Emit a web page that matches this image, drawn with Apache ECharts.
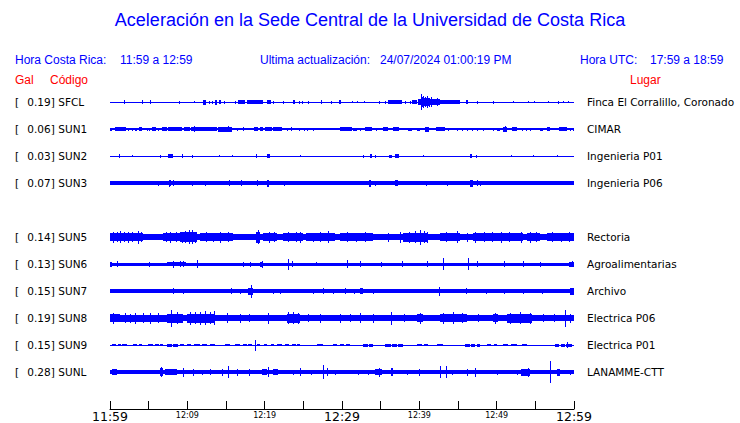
<!DOCTYPE html>
<html>
<head>
<meta charset="utf-8">
<script src="https://cdn.jsdelivr.net/npm/echarts@6/dist/echarts.min.js"></script>
<style>html,body{margin:0;padding:0;background:#fff}#c{width:740px;height:423px}</style>
</head>
<body>
<div id="c"></div>
<script>
// ---- data ----
const CODES  = ['SFCL','SUN1','SUN2','SUN3','SUN5','SUN6','SUN7','SUN8','SUN9','SUNL'];
const GAL    = ['0.19','0.06','0.03','0.07','0.14','0.13','0.15','0.19','0.15','0.28'];
const PLACES = ['Finca El Corralillo, Coronado','CIMAR','Ingenieria P01','Ingenieria P06','Rectoria','Agroalimentarias','Archivo','Electrica P06','Electrica P01','LANAMME-CTT'];
const ROWS   = [0,1,2,3,5,6,7,8,9,10];
// background trace amplitude (half width) of each station
const BASE   = [0.5,0.6,0.5,1.7,3.2,1.5,1.7,2.8,0.5,1.7];
// minutes after 11:59 : [start, end, half amplitude]
const SFCL = [[1.8,1.8,2],[4.1,4.1,2],[5.2,5.2,2],[8.9,8.9,1.5],[10.9,10.9,1],[12.0,12.4,2.5],[12.8,12.8,1.5],[13.2,13.2,1.5],[13.6,13.8,2.5],[14.1,14.4,2],[14.7,14.7,1.5],[16.2,16.2,1.5],[16.6,17.5,2],[17.7,17.7,2],[17.8,19.8,2],[20.3,20.8,2],[21.1,21.1,1.5],[22.4,22.4,1.5],[23.7,23.9,2],[24.4,24.4,1.5],[24.8,24.8,1.5],[25.6,25.6,1.5],[27.3,27.3,2],[28.6,28.6,1.5],[29.6,29.9,2],[31.3,31.3,1],[31.9,31.9,1],[32.8,32.8,1],[34.8,34.8,1.5],[35.6,35.6,1.5],[35.9,37.8,2],[38.1,38.1,1.5],[38.8,38.8,1.5],[39.1,39.7,2],[39.8,42.7,3],[40.2,40.2,8],[40.3,40.3,5],[40.5,40.5,6],[40.6,40.6,4],[40.7,40.7,5],[40.9,40.9,4],[41.0,41.0,6],[41.1,41.1,4],[41.3,41.3,4.5],[41.5,41.5,5],[42.3,42.3,4],[42.7,45.3,2],[46.0,46.3,2],[47.5,47.5,1.5],[49.5,49.5,1.5],[52.1,52.1,1],[54.1,54.1,1],[54.8,54.8,1],[56.6,56.6,1],[57.9,57.9,1.5],[58.6,58.6,1],[59.2,59.2,1]];
const SUN1 = [[0,0.3,1.5],[0.6,2.1,2],[2.3,2.3,1.5],[2.8,2.8,1.5],[3.2,3.5,1.5],[3.8,4.1,2],[4.8,4.8,1.5],[5.0,5.0,1.5],[5.4,5.9,2],[6.2,6.2,1.5],[6.7,7.4,2],[7.5,9.3,2],[9.6,10.3,2],[10.5,11.6,2],[10.8,10.8,3],[11.6,13.8,2],[14.0,15.8,2.5],[15.3,15.3,3],[16.4,16.4,1.5],[17.2,17.2,2],[18.1,18.1,1],[18.6,19.1,2],[19.4,19.8,2],[20.0,20.9,2],[21.1,22.2,2],[22.9,22.9,1.5],[23.4,23.4,2],[24.4,24.4,1.5],[25.1,25.1,1.5],[25.5,25.5,1.5],[26.3,26.3,1.5],[27.3,27.3,1],[27.5,27.5,1],[28.1,28.1,1],[28.8,28.8,1],[29.7,31.3,2],[31.4,31.9,1.5],[32.3,32.3,1.5],[33.0,33.9,2],[34.4,34.4,1.5],[35.3,35.9,2],[36.6,37.4,2],[38.5,39.1,1.5],[39.7,40.1,1.5],[40.7,41.3,2.5],[42.2,43.3,2],[43.7,43.7,1.5],[44.9,44.9,1.5],[45.5,45.5,1.5],[46.2,46.2,1.5],[46.8,46.8,1.5],[47.5,47.5,1.5],[48.2,48.2,1.5],[49.5,49.5,1.5],[50.0,50.4,1.5],[50.8,51.3,2.5],[51.1,51.1,3],[52.0,52.6,2],[53.3,53.3,1.5],[53.8,53.8,1.5],[54.3,54.3,1.5],[55.2,55.2,1],[55.6,56.0,1.5],[56.5,56.9,2],[58.1,59.1,2],[59.5,59.5,1.5],[59.9,59.9,1.5]];
const SUN2 = [[1.2,1.2,2],[2.9,2.9,1],[6.5,6.5,1.5],[7.5,8.1,2],[9.3,9.3,2],[10.6,10.6,1.5],[14.1,14.1,1],[15.8,15.8,1],[18.9,18.9,2],[20.3,20.7,2],[24.6,24.6,1],[32.7,32.7,1.5],[33.6,33.9,2],[34.3,34.3,1.5],[36.1,36.5,1.5],[36.9,37.4,2],[40.5,40.5,1],[46.6,46.8,2],[47.3,47.3,1.5],[51.9,51.9,1],[54.7,54.7,1],[57.8,57.8,1]];
const SUN3 = [[6.2,6.2,2.5],[7.6,7.6,3.5],[7.8,7.8,3],[8.2,8.2,3],[10.6,10.6,2.5],[12.3,12.3,2.5],[15.4,15.4,3],[17.0,17.0,3],[19.0,19.0,3],[20.3,20.5,3.5],[22.5,22.5,2.5],[33.5,33.7,3.5],[34.3,34.3,2.5],[36.9,37.2,3],[40.9,40.9,2.5],[43.6,43.6,2.5],[46.6,46.9,3.5],[47.4,47.4,3],[47.8,47.8,2.5],[53.0,53.0,2],[54.7,54.7,2]];
const SUN5 = [[0,4.3,4.2],[0.4,0.4,5.5],[0.9,0.9,5],[1.3,1.3,6],[1.8,1.8,5],[2.3,2.3,5.5],[2.9,2.9,5],[3.6,3.6,6.5],[4.0,4.0,5],[6.8,9.0,4.2],[7.2,7.2,5],[7.8,7.8,5.5],[8.5,8.5,5],[9.0,11.2,4.8],[9.3,9.3,5.5],[9.7,9.7,6],[10.2,10.2,7],[10.6,10.6,7],[11.0,11.0,5.5],[11.6,15.9,3.9],[12.4,12.4,5],[13.3,13.3,4.5],[14.2,14.2,5.5],[15.2,15.2,5],[18.9,19.4,5.5],[19.1,19.1,7],[19.8,21.6,4.2],[20.5,20.5,5.5],[21.2,21.2,5],[22.4,24.9,4.2],[23.0,23.0,5],[24.0,24.0,5],[24.6,24.6,5.5],[25.4,29.1,3.9],[26.2,26.2,4.5],[27.2,27.2,5],[28.2,28.2,6],[29.7,34.0,3.9],[30.6,30.6,5],[31.8,31.8,4.5],[33.0,33.0,5],[36.0,36.0,4.5],[37.5,37.5,5.5],[37.9,41.0,4.5],[38.6,38.6,5.5],[39.5,39.5,6],[40.1,40.1,7.5],[40.6,40.6,6],[41.0,41.0,5.5],[42.7,45.3,4.2],[43.4,43.4,5],[44.9,44.9,6],[46.2,46.2,4.5],[47.0,53.4,4.2],[47.2,47.2,5.5],[48.3,48.3,5],[49.4,49.4,5],[50.5,50.5,5.5],[51.6,51.6,5],[53.1,53.1,5.5],[53.9,55.6,4.2],[54.3,54.3,5.5],[55.1,55.1,5],[56.5,60,3.9],[57.2,57.2,5],[58.3,58.3,4.5],[59.3,59.3,5]];
const SUN6 = [[0,0.3,2.5],[0.9,0.9,3],[5.0,5.0,2.5],[7.4,9.8,2],[8.2,8.2,3.5],[9.0,9.0,3],[9.5,9.5,3],[11.2,11.2,4],[17.2,17.2,2.5],[18.1,18.1,2.5],[19.4,19.8,2.5],[19.6,19.6,3.5],[23.0,23.0,5.5],[23.5,23.5,3],[26.7,26.7,2],[30.6,30.6,4],[32.3,32.3,3],[35.1,35.1,2.5],[37.7,37.7,3],[41.0,41.0,3],[43.1,43.1,6],[46.3,46.3,6],[47.4,47.4,3],[50.9,50.9,3],[53.4,53.4,3],[55.6,55.6,2.5],[59.4,60,2.5],[59.7,59.7,3]];
const SUN7 = [[8.1,8.1,3],[9.4,9.4,2.5],[15.7,15.7,3],[16.8,16.8,2.5],[17.8,18.5,3.5],[18.2,18.2,6.5],[21.1,21.1,2.5],[22.0,22.0,2.5],[26.3,26.3,2.5],[27.6,27.6,3],[28.9,28.9,2.5],[30.4,30.4,3],[31.5,31.5,2.5],[32.3,32.7,3],[34.0,34.0,2.5],[36.0,36.0,2],[40.7,40.7,2],[42.6,42.6,4.5],[46.0,46.0,3],[48.6,48.6,2.5],[50.9,50.9,2.5],[53.4,53.4,2.5],[55.8,55.8,2.5],[59.5,60,3.5]];
const SUN8 = [[0,1.3,4],[0.4,0.4,5.5],[1.3,7.4,3.5],[1.9,1.9,5],[2.6,2.6,4.5],[3.2,3.2,5.5],[4.3,4.3,5],[5.2,5.2,5.5],[6.2,6.2,5],[7.4,9.5,4.5],[7.9,7.9,8.5],[8.7,8.7,6],[10.0,13.6,4.5],[10.3,10.3,6.5],[11.0,11.0,6],[11.6,11.6,6.5],[12.3,12.3,7],[12.9,12.9,6],[13.4,13.4,7],[15.1,15.1,5],[16.8,16.8,4.5],[18.0,18.0,4],[20.4,20.4,5.5],[22.9,24.6,4.5],[23.0,23.0,6],[23.7,23.7,6],[24.3,24.3,5.5],[25.6,25.6,4],[27.2,27.2,4.5],[29.7,29.7,4.5],[31.0,31.0,4],[32.3,32.3,5],[34.0,34.0,4.5],[36.3,36.3,6.5],[38.0,38.0,4],[39.7,40.5,4],[40.1,40.1,5.5],[42.7,46.2,4],[43.1,43.1,5.5],[44.4,44.4,6],[45.5,45.5,5],[47.6,47.6,4],[49.5,50.2,4],[49.8,49.8,5.5],[51.3,54.6,4.5],[51.7,51.7,5.5],[53.0,53.0,6],[54.3,54.3,5.5],[56.0,56.0,4],[57.4,57.4,4],[58.8,58.8,8.5],[59.5,59.5,4.5]];
const SUN9 = [[0.3,0.8,1.2],[1.0,1.4,1.2],[1.6,2.2,1.2],[3.0,3.5,1.2],[3.7,4.1,1.2],[4.9,5.6,1.2],[5.8,6.3,1.2],[6.5,6.9,1.2],[7.4,8.0,1.5],[8.2,8.8,1.5],[9.1,9.6,1.2],[9.9,10.5,1.2],[10.8,11.6,1.2],[11.9,12.6,1.2],[12.9,13.6,1.2],[14.9,15.5,1.2],[16.2,16.8,1.2],[17.2,17.7,1.2],[17.9,18.4,1.2],[18.7,18.7,5.5],[19.0,19.4,1],[19.9,20.3,1],[20.8,21.2,1],[21.6,22.2,1],[22.6,23.2,1.2],[23.5,24.0,1.2],[24.2,24.6,1.2],[26.8,27.5,1.2],[28.8,29.4,1.2],[29.7,30.2,1.2],[30.5,31.0,1.2],[32.7,33.3,1.5],[33.5,34.0,1.5],[35.6,36.3,1.5],[36.5,37.1,1.5],[37.3,37.9,1.5],[39.7,40.3,1.2],[40.6,41.1,1.2],[42.3,43.1,1.2],[45.9,46.5,1.5],[46.7,47.2,1.5],[47.4,47.8,1.5],[48.7,49.3,1.2],[49.6,50.0,1.2],[50.8,51.5,1.2],[51.8,52.6,1.2],[53.3,53.9,1.2],[57.5,58.0,1.5],[58.3,58.8,1.5],[59.0,59.8,1.5],[59.1,59.1,3]];
const SUNL = [[0.3,0.9,3],[6.5,6.9,4],[6.6,6.6,5],[7.1,8.6,3],[9.4,9.4,4.5],[10.7,10.7,3.5],[11.9,11.9,2.5],[12.9,12.9,3],[14.5,14.5,3.5],[15.3,15.3,6],[16.4,16.4,3.5],[18.0,18.0,3.5],[19.6,20.3,3],[20.4,20.4,5],[21.1,21.7,3],[23.6,23.6,2.5],[24.6,24.6,4],[26.0,26.0,2.5],[27.6,27.6,7],[28.1,28.1,4],[29.1,29.1,2.5],[32.1,32.1,2.5],[33.4,33.4,2.5],[34.3,35.2,3],[34.8,34.8,4.5],[36.4,36.6,4],[38.4,38.4,2.5],[39.9,39.9,3.5],[42.7,42.7,6],[43.5,43.5,6],[44.2,44.2,2.5],[46.1,46.1,3.5],[47.2,47.2,4.5],[50.0,50.0,2.5],[52.6,52.6,2.5],[53.2,54.3,3.5],[54.0,54.0,4.5],[56.9,56.9,11],[57.8,58.2,3.5],[59.5,59.5,2.5]];
const EVENTS = [SFCL,SUN1,SUN2,SUN3,SUN5,SUN6,SUN7,SUN8,SUN9,SUNL];
const X_LABELS = ['11:59','','12:09','','12:19','','12:29','','12:39','','12:49','','12:59'];
const BIG_LABELS = ['11:59','12:29','12:59'];

// ---- chart ----
const AMP_PER_ROW = 27;   // amplitude units per trace spacing
const BLUE = '#0000ff';
const chart = echarts.init(document.getElementById('c'), null, {renderer:'svg'});

function makeRender(row){
  return function(params, api){
    const a = api.value(2) / AMP_PER_ROW;
    const p0 = api.coord([api.value(0), row - a]);
    const p1 = api.coord([api.value(1), row + a]);
    const x0 = Math.round(Math.min(p0[0],p1[0]));
    let x1 = Math.round(Math.max(p0[0],p1[0])); if (x1 <= x0) x1 = x0 + 1;
    const y0 = Math.round(Math.min(p0[1],p1[1]));
    let y1 = Math.round(Math.max(p0[1],p1[1])); if (y1 <= y0) y1 = y0 + 1;
    return {type:'rect', shape:{x:x0,y:y0,width:x1-x0,height:y1-y0}, style:{fill:BLUE}};
  };
}

const series = EVENTS.map((ev,i)=>({
  type:'custom', name:CODES[i], xAxisIndex:0, yAxisIndex:0, silent:true, animation:false,
  renderItem: makeRender(ROWS[i]),
  encode:{x:[0,1]},
  data: [[0,60,BASE[i]]].concat(ev)
}));

const yCommon = {type:'value', inverse:true, min:-1, max:11.37, interval:1,
  axisLine:{show:false}, axisTick:{show:false}, splitLine:{show:false}};

const txt = (x,y,t,c,s)=>({type:'text', left:x, top:y, style:{text:t, fill:c, font:(s||12)+'px "Liberation Sans", Arial, sans-serif'}});
const LBL = {fontSize:10.5, fontFamily:'DejaVu Sans', color:'#000'};

chart.setOption({
  animation:false,
  grid:{left:110, right:166, top:75, bottom:14, containLabel:false, outerBoundsMode:'none'},
  xAxis:{type:'value', min:0, max:60, interval:5,
    axisLine:{onZero:false, lineStyle:{color:'#000', width:1}},
    axisTick:{inside:true, length:8, lineStyle:{color:'#000'}},
    splitLine:{show:false},
    axisLabel:{margin:1, verticalAlign:'top',
      formatter:function(v){ const s = X_LABELS[Math.round(v/5)] || ''; if(!s) return ''; return BIG_LABELS.indexOf(s)>=0 ? '{big|'+s+'}' : '{small|'+s+'}'; },
      rich:{big:{fontSize:12.5, fontFamily:'DejaVu Sans', color:'#000', lineHeight:12},
            small:{fontSize:8, fontFamily:'DejaVu Sans', color:'#000', lineHeight:10}}}
  },
  yAxis:[
    Object.assign({}, yCommon, {position:'left', axisLabel:{align:'left', margin:95,
      formatter:function(v){ const i = ROWS.indexOf(v); if(i<0) return ''; return '{br|[}{gal|'+GAL[i]+']}{code| '+CODES[i]+'}'; },
      rich:{br:Object.assign({width:12}, LBL),
            gal:Object.assign({width:28, align:'right'}, LBL),
            code:Object.assign({}, LBL)}}}),
    Object.assign({}, yCommon, {position:'right', axisLabel:Object.assign({margin:13,
      formatter:function(v){ const i = ROWS.indexOf(v); return i<0 ? '' : PLACES[i]; }}, LBL)})
  ],
  graphic:[
    {type:'text', left:'center', top:11, style:{text:'Aceleración en la Sede Central de la Universidad de Costa Rica', fill:BLUE, font:'18px "Liberation Sans", Arial, sans-serif'}},
    txt(15,54,'Hora Costa Rica:',BLUE), txt(120,54,'11:59 a 12:59',BLUE),
    txt(260,54,'Ultima actualización:',BLUE), txt(380,54,'24/07/2024 01:00:19 PM',BLUE),
    txt(580,54,'Hora UTC:',BLUE), txt(650,54,'17:59 a 18:59',BLUE),
    txt(15,74,'Gal','#ff0000'), txt(50,74,'Código','#ff0000'), txt(630,74,'Lugar','#ff0000')
  ],
  series: series
});
</script>
</body>
</html>
